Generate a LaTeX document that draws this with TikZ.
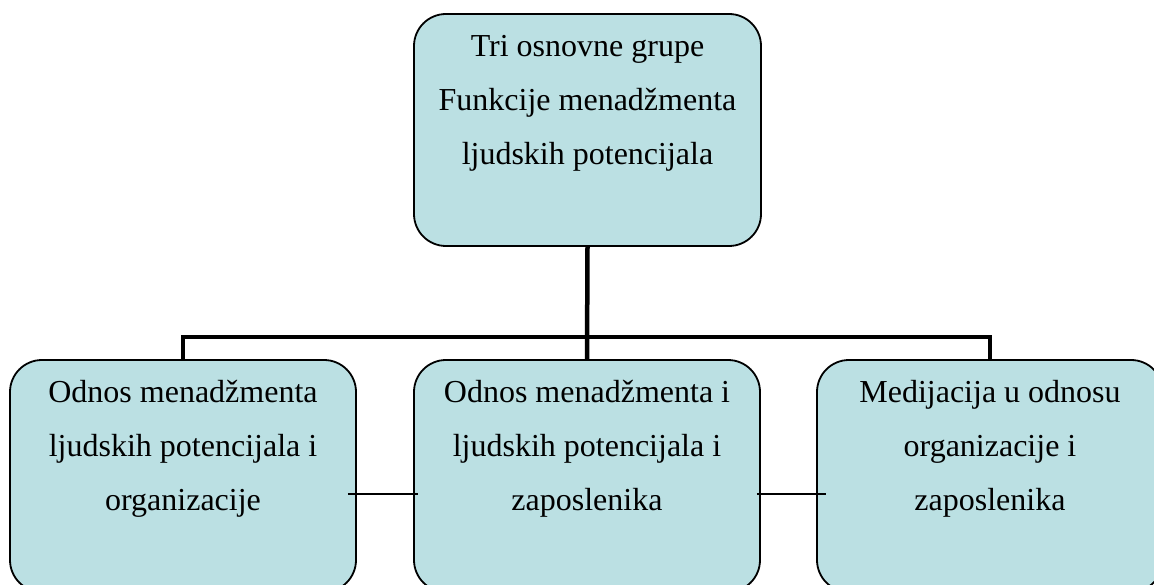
\documentclass[tikz,border=0pt]{standalone}
\usepackage{fontspec}
\setmainfont{Liberation Serif}
\usetikzlibrary{calc}
\definecolor{boxfill}{RGB}{187,224,227}
\tikzset{
  group/.style={draw,line width=1.8pt,fill=boxfill,rounded corners=32pt,minimum width=346pt,minimum height=232pt,inner sep=0pt},
  txt/.style={align=center,font=\fontsize{32}{54}\selectfont,inner sep=0pt,anchor=base},
  trunk/.style={line width=4.5pt},
  link/.style={line width=1.5pt}
}

\begin{document}
\begin{tikzpicture}[x=1pt,y=1pt]
    \useasboundingbox (0,0) rectangle (1154,-585);

    \node [group, minimum width=347pt] (top) at (587.5,-130) {};
    \node [group] (org) at (183,-476) {};
    \node [group] (zap) at (587,-476) {};
    \node [group] (med) at (990,-476) {};

    \node [txt] (topText) at ($(top.north)+(0,-151)$) {Tri osnovne grupe\\Funkcije menadžmenta\\ljudskih potencijala};
    \node [txt] (orgText) at ($(org.north)+(0,-151)$) {Odnos menadžmenta\\ljudskih potencijala i\\organizacije};
    \node [txt] (zapText) at ($(zap.north)+(0,-151)$) {Odnos menadžmenta i\\ljudskih potencijala i\\zaposlenika};
    \node [txt] (medText) at ($(med.north)+(0,-151)$) {Medijacija u odnosu\\organizacije i\\zaposlenika};

    \coordinate (bar) at (587,-337);
    \draw [trunk] (top.south) -- (zap.north);
    \draw [trunk] (org.north) |- (bar) -| (med.north);

    \draw [link] ([shift={(-9,-18)}]org.east) -- ([shift={(5,-18)}]zap.west);
    \draw [link] ([shift={(-4,-18)}]zap.east) -- ([shift={(10,-18)}]med.west);
  \end{tikzpicture}
\end{document}
